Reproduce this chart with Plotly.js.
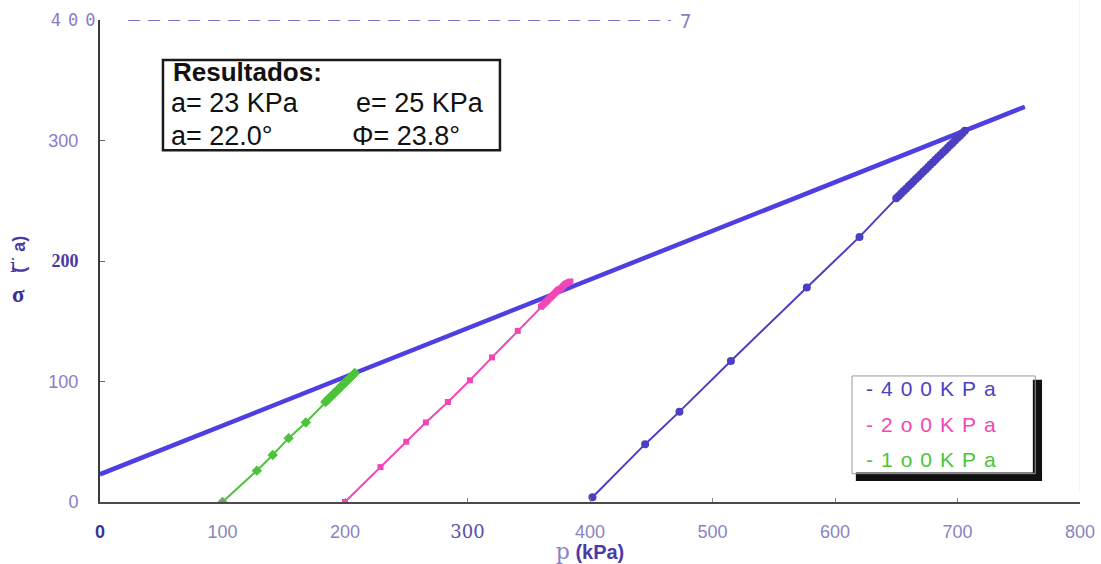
<!DOCTYPE html>
<html>
<head>
<meta charset="utf-8">
<script src="https://cdn.plot.ly/plotly-3.0.1.min.js"></script>
<style>
  html, body { margin: 0; padding: 0; background: #ffffff; }
  #chart { width: 1101px; height: 564px; }
</style>
</head>
<body>
<div id="chart"></div>
<script>
// ---------- data ----------
const envP = [0, 755];
const envQ = [23, 328];

const p400 = [402, 445, 473, 515, 577, 620, 650, 652, 654, 656, 658, 660, 662, 664, 666, 668, 670, 672, 674, 676, 678, 680, 682, 684, 686, 688, 690, 692, 694, 696, 698, 700, 702, 704, 706];
const q400 = [4, 48, 75, 117, 178, 220, 252, 254, 256, 258, 260, 262, 264, 266, 268, 270, 272, 274, 276, 278, 280, 282, 284, 286, 288, 290, 292, 294, 296, 298, 300, 302, 304, 306, 308];

const p200 = [200, 229, 250, 266, 284, 302, 320, 341, 360, 361, 362, 363, 364, 365, 366, 367, 368, 369, 370, 371, 372, 373, 374, 375, 376, 377, 378, 379, 380, 381, 382, 383, 384];
const q200 = [0, 29, 50, 66, 83, 101, 120, 142, 162, 163, 164, 165, 166, 167, 168, 169, 170, 171, 172, 173, 174, 175, 176, 176.5, 177, 178, 179, 180, 181, 181.5, 182, 182.5, 183];

const p100 = [100, 128, 141, 154, 168, 184, 185, 186, 187, 188, 189, 190, 191, 192, 193, 194, 195, 196, 197, 198, 199, 200, 201, 202, 203, 204, 205, 206, 207, 208];
const q100 = [0, 26, 39, 53, 66, 83, 84, 85, 86, 87, 88, 89, 90, 91, 92, 93, 94, 95, 96, 97, 98, 99, 100, 101, 102, 103, 104, 105, 106, 107];

const seriesNames = ["-400KPa", "-2o0KPa", "-1o0KPa"];
const xTickVals = [0, 100, 200, 300, 400, 500, 600, 700, 800];
const xTickText = ["0", "100", "200", "300", "400", "500", "600", "700", "800"];
const yTickVals = [0, 100, 200, 300, 400];
const yTickText = ["0", "100", "200", "300", "400"];

const resultLines = ["Resultados:", "a= 23 KPa", "e= 25 KPa", "a= 22.0°", "Φ= 23.8°"];

// ---------- styling ----------
const cEnv = "#4d3fe2", c400 = "#4b3fc2", c200 = "#f047b8", c100 = "#4cc43a";
const tickLight = "#8a84c4", tickDark = "#3d3396";

const xText = xTickText.map((t, i) => {
  if (i === 0) return '<b><span style="color:' + tickDark + '">' + t + '</span></b>';
  if (i === 3) return '<span style="color:#5a50aa;font-family:\'DejaVu Serif\'">' + t + '</span>';
  return t;
});
const yText = yTickText.map((t, i) => {
  if (i === 2) return '<b><span style="color:#4a3aa8;font-family:\'Liberation Serif\'">' + t + '</span></b>';
  if (i === 4) return '<span style="font-family:\'DejaVu Sans Mono\';font-size:17px">' + t + '</span>';
  return t;
});

const traces = [
  { x: envP, y: envQ, mode: "lines", name: "Envolvente", showlegend: false,
    line: { color: cEnv, width: 4.5 } },
  { x: p400, y: q400, mode: "lines+markers", name: seriesNames[0], showlegend: false,
    line: { color: c400, width: 2 }, marker: { color: c400, size: 8, symbol: "circle" } },
  { x: p200, y: q200, mode: "lines+markers", name: seriesNames[1], showlegend: false,
    line: { color: c200, width: 2 }, marker: { color: c200, size: 6, symbol: "square" } },
  { x: p100, y: q100, mode: "lines+markers", name: seriesNames[2], showlegend: false,
    line: { color: c100, width: 2 }, marker: { color: c100, size: 8, symbol: "diamond" } }
];

const boxFont = { family: "Liberation Sans, Arial, sans-serif", size: 27, color: "#111111" };

const annotations = [
  // results box text
  { x: 58, y: 357, xref: "x", yref: "y", xanchor: "left", yanchor: "middle", align: "left", showarrow: false,
    text: "<b>" + resultLines[0] + "</b>", font: Object.assign({}, boxFont, { size: 26 }) },
  { x: 56, y: 331, xref: "x", yref: "y", xanchor: "left", yanchor: "middle", align: "left", showarrow: false,
    text: resultLines[1], font: boxFont },
  { x: 207, y: 331, xref: "x", yref: "y", xanchor: "left", yanchor: "middle", align: "left", showarrow: false,
    text: resultLines[2], font: boxFont },
  { x: 56, y: 304, xref: "x", yref: "y", xanchor: "left", yanchor: "middle", align: "left", showarrow: false,
    text: resultLines[3], font: boxFont },
  { x: 204, y: 304, xref: "x", yref: "y", xanchor: "left", yanchor: "middle", align: "left", showarrow: false,
    text: resultLines[4], font: boxFont },
  // legend text
  { x: 624, y: 94.6, xref: "x", yref: "y", xanchor: "left", yanchor: "middle", align: "left", showarrow: false,
    text: seriesNames[0], font: { family: "Liberation Sans, Arial", size: 21, color: c400 } },
  { x: 624, y: 64.7, xref: "x", yref: "y", xanchor: "left", yanchor: "middle", align: "left", showarrow: false,
    text: seriesNames[1], font: { family: "Liberation Sans, Arial", size: 21, color: c200 } },
  { x: 624, y: 34.9, xref: "x", yref: "y", xanchor: "left", yanchor: "middle", align: "left", showarrow: false,
    text: seriesNames[2], font: { family: "Liberation Sans, Arial", size: 21, color: c100 } },
  // stray "7" at end of dashed top line
  { x: 478, y: 399, xref: "x", yref: "y", xanchor: "center", yanchor: "middle", showarrow: false,
    text: "7", font: { family: "DejaVu Sans Mono", size: 19, color: "#8a7cc8" } },
  // y axis title pieces
  { x: -0.083, y: 0.5145, xref: "paper", yref: "paper", xanchor: "center", yanchor: "middle", showarrow: false,
    textangle: -90, text: "<b>(   a)</b>", font: { family: "Liberation Sans, Arial", size: 18, color: "#4a3aa8" } },
  { x: -0.089, y: 0.492, xref: "paper", yref: "paper", xanchor: "center", yanchor: "middle", showarrow: false,
    text: "i", font: { family: "DejaVu Serif", size: 19, color: "#4a3aa8" } },
  { x: -0.0835, y: 0.4295, xref: "paper", yref: "paper", xanchor: "center", yanchor: "middle", showarrow: false,
    text: "<b>σ</b>", font: { family: "Liberation Serif", size: 23, color: "#3a2f96" } }
];

const shapes = [
  // dashed top line
  { type: "line", xref: "x", yref: "y", x0: 23, x1: 466, y0: 400, y1: 400,
    line: { color: "#7d6fcc", width: 2, dash: "12px,8px" } },
  // right border
  { type: "line", xref: "x", yref: "paper", x0: 800.5, x1: 800.5, y0: 0.02, y1: 1.045,
    line: { color: "#b2a8d6", width: 1.5 } },
  // results box
  { type: "rect", xref: "x", yref: "y", x0: 51.4, x1: 326.5, y0: 292, y1: 366.8,
    line: { color: "#1a1a1a", width: 2.5 }, fillcolor: "#ffffff", layer: "below" },
  // legend box shadow
  { type: "rect", xref: "x", yref: "y", x0: 761.5, x1: 769, y0: 17.4, y1: 101.5,
    line: { width: 0 }, fillcolor: "#111111" },
  { type: "rect", xref: "x", yref: "y", x0: 617, x1: 769, y0: 17.4, y1: 24.5,
    line: { width: 0 }, fillcolor: "#111111" },
  // legend box
  { type: "rect", xref: "x", yref: "y", x0: 613.9, x1: 763.5, y0: 23.5, y1: 104.6,
    line: { color: "#9a9a9a", width: 1 }, fillcolor: "rgba(0,0,0,0)" }
];

const layout = {
  width: 1101, height: 564,
  margin: { l: 100, r: 21, t: 20, b: 62, pad: 0 },
  paper_bgcolor: "#ffffff", plot_bgcolor: "#ffffff",
  showlegend: false,
  xaxis: {
    range: [0, 800], autorange: false, fixedrange: true,
    tickvals: xTickVals, ticktext: xText,
    tickfont: { family: "Liberation Sans Narrow, Liberation Sans, Arial", size: 18, color: tickLight },
    ticks: "inside", ticklen: 4, tickcolor: "#888888", tickwidth: 1,
    ticklabelstandoff: 12,
    showgrid: false, zeroline: false,
    showline: true, linecolor: "#4a4a4a", linewidth: 2,
    title: { text: '<span style="font-family:\'DejaVu Serif\';color:#8a84c4;font-size:22px">p</span> <b>(kPa)</b>',
             font: { family: "Liberation Sans, Arial", size: 20, color: "#4a3aa8" }, standoff: 0 }
  },
  yaxis: {
    range: [0, 400], autorange: false, fixedrange: true,
    tickvals: yTickVals, ticktext: yText,
    tickfont: { family: "Liberation Sans Narrow, Liberation Sans, Arial", size: 18, color: "#8a7cc8" },
    ticks: "inside", ticklen: 5, tickcolor: "#666666", tickwidth: 1,
    ticklabelstandoff: 16,
    showgrid: false, zeroline: false,
    showline: true, linecolor: "#3a3a3a", linewidth: 2
  },
  annotations: annotations,
  shapes: shapes
};

Plotly.newPlot("chart", traces, layout, { staticPlot: true, displayModeBar: false }).then(function () {
  document.querySelectorAll(".annotation-text").forEach(function (el) {
    const t = el.textContent;
    if (seriesNames.indexOf(t) >= 0) el.style.letterSpacing = "8px";
  });
  document.querySelectorAll(".ytick text").forEach(function (el) {
    if (el.textContent === "400") {
      el.style.letterSpacing = "7px";
      const x0 = parseFloat(el.getAttribute("x")) || 0;
      el.setAttribute("x", x0 + 24);
    }
  });
});
</script>
</body>
</html>
